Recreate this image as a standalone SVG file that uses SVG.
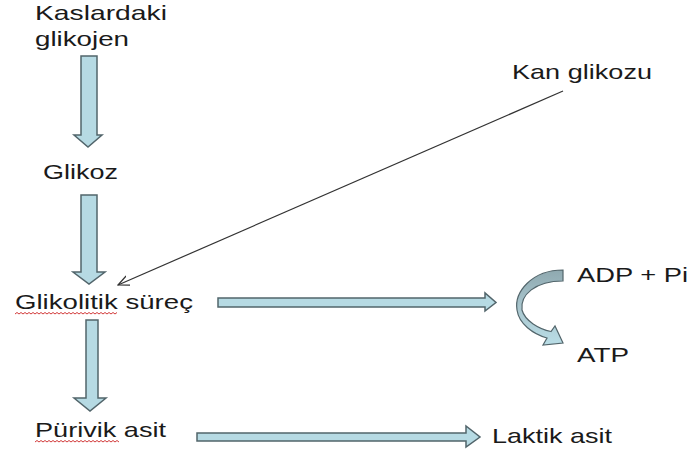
<svg xmlns="http://www.w3.org/2000/svg" width="691" height="454" viewBox="0 0 691 454">
  <style>
    .lbl { font-family: "Liberation Sans", Arial, sans-serif; font-size: 21px; fill: #1a1a1a; }
    .block { fill: #b6dae3; stroke: #52656b; stroke-width: 1.5; stroke-linejoin: miter; }
    .thin { stroke: #333; stroke-width: 1.2; fill: none; }
    .squiggle { stroke: #d23a3a; stroke-width: 1; fill: none; }
  </style>
  <defs>
    <marker id="open-head" viewBox="0 0 12 12" refX="11" refY="6" markerWidth="12" markerHeight="12" markerUnits="userSpaceOnUse" orient="auto">
      <path d="M0,1 L11,6 L0,11" fill="none" stroke="#333" stroke-width="1.2"/>
    </marker>
    <linearGradient id="curve-fill" x1="0" y1="0" x2="0" y2="1">
      <stop offset="0" stop-color="#8fa9b0"/>
      <stop offset="0.5" stop-color="#a9c6ce"/>
      <stop offset="1" stop-color="#b9dde6"/>
    </linearGradient>
  </defs>
  <rect width="691" height="454" fill="#ffffff"/>

  <!-- nodes -->
  <g id="kaslardaki-glikojen">
    <text class="lbl" x="35" y="20" textLength="132" lengthAdjust="spacingAndGlyphs">Kaslardaki</text>
    <text class="lbl" x="35" y="46" textLength="94" lengthAdjust="spacingAndGlyphs">glikojen</text>
  </g>
  <g id="glikoz">
    <text class="lbl" x="43" y="179" textLength="75" lengthAdjust="spacingAndGlyphs">Glikoz</text>
  </g>
  <g id="kan-glikozu">
    <text class="lbl" x="512" y="79" textLength="140" lengthAdjust="spacingAndGlyphs">Kan glikozu</text>
  </g>
  <g id="glikolitik-surec">
    <text class="lbl" x="15" y="309" textLength="178" lengthAdjust="spacingAndGlyphs">Glikolitik süreç</text>
    <path class="squiggle" d="M15,314 l2,-1.5 l2,1.5 l2,-1.5 l2,1.5 l2,-1.5 l2,1.5 l2,-1.5 l2,1.5 l2,-1.5 l2,1.5 l2,-1.5 l2,1.5 l2,-1.5 l2,1.5 l2,-1.5 l2,1.5 l2,-1.5 l2,1.5 l2,-1.5 l2,1.5 l2,-1.5 l2,1.5 l2,-1.5 l2,1.5 l2,-1.5 l2,1.5 l2,-1.5 l2,1.5 l2,-1.5 l2,1.5 l2,-1.5 l2,1.5 l2,-1.5 l2,1.5 l2,-1.5 l2,1.5 l2,-1.5 l2,1.5 l2,-1.5 l2,1.5 l2,-1.5 l2,1.5 l2,-1.5 l2,1.5 l2,-1.5 l2,1.5 l2,-1.5 l2,1.5 l2,-1.5 l2,1.5 l2,-1.5"/>
  </g>
  <g id="purivik-asit">
    <text class="lbl" x="35" y="437" textLength="131" lengthAdjust="spacingAndGlyphs">Pürivik asit</text>
    <path class="squiggle" d="M35,442 l2,-1.5 l2,1.5 l2,-1.5 l2,1.5 l2,-1.5 l2,1.5 l2,-1.5 l2,1.5 l2,-1.5 l2,1.5 l2,-1.5 l2,1.5 l2,-1.5 l2,1.5 l2,-1.5 l2,1.5 l2,-1.5 l2,1.5 l2,-1.5 l2,1.5 l2,-1.5 l2,1.5 l2,-1.5 l2,1.5 l2,-1.5 l2,1.5 l2,-1.5 l2,1.5 l2,-1.5 l2,1.5 l2,-1.5 l2,1.5 l2,-1.5 l2,1.5 l2,-1.5 l2,1.5 l2,-1.5 l2,1.5 l2,-1.5 l2,1.5 l2,-1.5 l2,1.5"/>
  </g>
  <g id="laktik-asit">
    <text class="lbl" x="492" y="443" textLength="120" lengthAdjust="spacingAndGlyphs">Laktik asit</text>
  </g>
  <g id="adp-pi">
    <text class="lbl" x="577" y="282" textLength="111" lengthAdjust="spacingAndGlyphs">ADP + Pi</text>
  </g>
  <g id="atp">
    <text class="lbl" x="577" y="362" textLength="52" lengthAdjust="spacingAndGlyphs">ATP</text>
  </g>

  <!-- connectors -->
  <g id="connectors">
    <!-- glikojen to glikoz -->
    <path class="block" d="M81,56 H97 V135 H102 L88,147 L74,135 H81 Z"/>
    <!-- glikoz to glikolitik surec -->
    <path class="block" d="M81,195 H97 V272 H105 L89,284 L73,272 H81 Z"/>
    <!-- glikolitik surec to purivik asit -->
    <path class="block" d="M86,320 H98 V398 H106 L90,411 L74,398 H86 Z"/>
    <!-- glikolitik surec to energy step -->
    <path class="block" d="M218,298 H485 V293 L496,302.5 L485,311 V307 H218 Z"/>
    <!-- purivik asit to laktik asit -->
    <path class="block" d="M197,433 H466 V426 L480,437 L466,447 V441 H197 Z"/>
    <!-- kan glikozu into glikolitik surec -->
    <line class="thin" x1="563" y1="91" x2="118" y2="285" marker-end="url(#open-head)"/>
    <!-- ADP + Pi turning into ATP -->
    <path d="M563,270 C532,270 514,292 517,310 C519,324 533,334 547,338 L543,345 L563,343 L555,326 L551,331.5 C539,329 525,321 522,310 C520,295 535,281 563,281 Z" fill="url(#curve-fill)" stroke="#52656b" stroke-width="1.2"/>
  </g>
</svg>
